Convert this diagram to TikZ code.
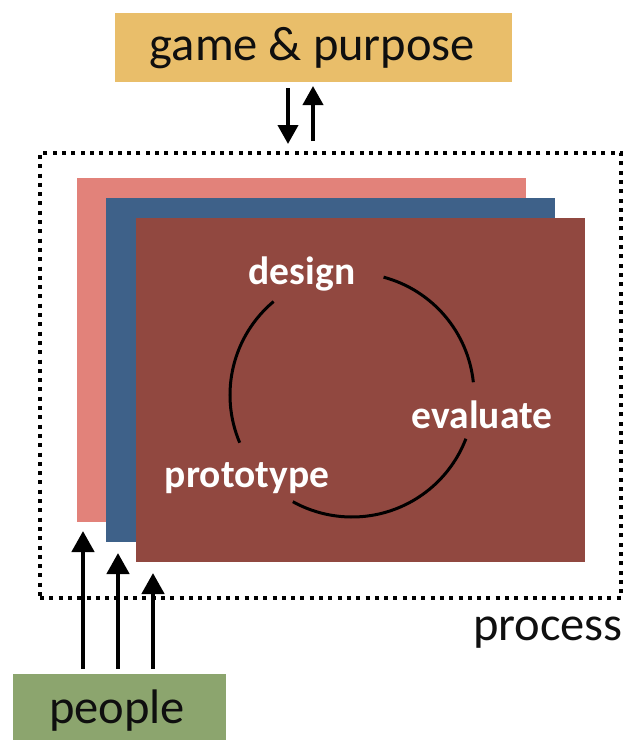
\documentclass[tikz,border=0pt]{standalone}
\usepackage{fontspec}
\setmainfont{Carlito}
\usetikzlibrary{arrows.meta}
\definecolor{gold}{RGB}{233,190,106}
\definecolor{pinkc}{RGB}{226,130,122}
\definecolor{bluec}{RGB}{62,97,137}
\definecolor{redc}{RGB}{145,72,64}
\definecolor{greenc}{RGB}{140,165,110}
\definecolor{ink}{RGB}{15,15,15}
\tikzset{
  lbl/.style={font=\fontsize{48.5}{52}\selectfont, text=ink, inner sep=0pt},
  cyc/.style={font=\bfseries\fontsize{39.5}{42}\selectfont, text=white, inner sep=0pt},
  layer/.style={draw=none, inner sep=0pt, minimum width=449pt, minimum height=344pt},
  arr/.style={line width=4.5pt, -{Triangle[width=22pt,length=21pt]}, draw=black},
  tarr/.style={line width=4pt, -{Triangle[width=20pt,length=19pt]}, draw=black},
  cyclearc/.style={line width=3pt, draw=black},
  dotbox/.style={draw=black, line width=4pt, dash pattern=on 4pt off 5.3pt}
}
\begin{document}
\begin{tikzpicture}[x=1pt,y=-1pt]
\useasboundingbox (0,0) rectangle (627,740);
% top box
\node[fill=gold, minimum width=397pt, minimum height=69pt, inner sep=0pt] (game) at (313.5,47.5) {};
\node[lbl] (gametext) at (312.5,48) {game \& purpose};
% process dotted box
\node[dotbox, minimum width=581pt, minimum height=445pt, inner sep=0pt] (process) at (330.5,375.5) {};
\node[lbl, anchor=east] (processtext) at (623,633) {process};
% layers
\node[layer, fill=pinkc] (pinkrect) at (301,350) {};
\node[layer, fill=bluec] (bluerect) at (330.5,370) {};
\node[layer, fill=redc] (redrect) at (360.5,390) {};
% cycle
\coordinate (cc) at (352,395);
\draw[cyclearc] ([shift={(75:122pt)}]cc) arc[start angle=75, end angle=6, radius=122pt];
\draw[cyclearc] ([shift={(-21:122pt)}]cc) arc[start angle=-21, end angle=-119, radius=122pt];
\draw[cyclearc] ([shift={(203:122pt)}]cc) arc[start angle=203, end angle=130, radius=122pt];
\node[cyc] (design) at (302,274) {design};
\node[cyc] (evaluate) at (482,415) {evaluate};
\node[cyc] (prototype) at (247,478) {prototype};
% people
\node[fill=greenc, minimum width=213pt, minimum height=70pt, inner sep=0pt] (people) at (119.5,709) {};
\node[lbl] (peopletext) at (117,711) {people};
% arrows from people
\coordinate (a1) at (83,531);
\coordinate (a2) at (118,553);
\coordinate (a3) at (153,573);
\draw[arr] (people.north -| a1) ++(0,-5) -- (a1);
\draw[arr] (people.north -| a2) ++(0,-5) -- (a2);
\draw[arr] (people.north -| a3) ++(0,-5) -- (a3);
% arrows between game and process
\coordinate (d1) at (288,144);
\coordinate (u1) at (313,86);
\draw[tarr] (game.south -| d1) ++(0,6) -- (d1);
\draw[tarr] (process.north -| u1) ++(0,-10) -- (u1);
\end{tikzpicture}
\end{document}
